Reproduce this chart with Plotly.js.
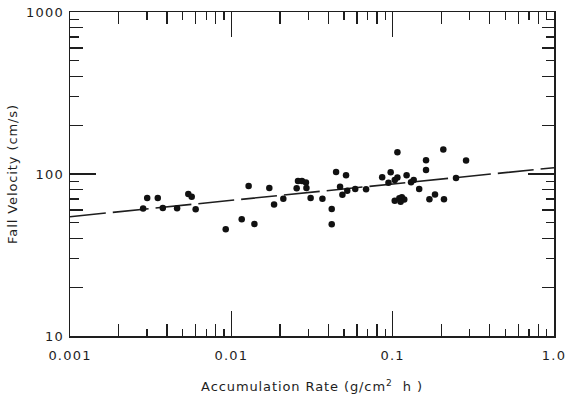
<!DOCTYPE html>
<html>
<head>
<meta charset="utf-8">
<script src="https://cdn.plot.ly/plotly-3.0.1.min.js"></script>
<style>
html,body{margin:0;padding:0;background:#fff;}
#chart{width:567px;height:402px;}
#chart .xtitle, #chart .ytitle{letter-spacing:0.9px;}
#chart .xtick text, #chart .ytick text{letter-spacing:1.2px;}
</style>
</head>
<body>
<div id="chart"></div>
<script>
// Accumulation rate (g/cm^2 h) and fall velocity (cm/s)
const accRate = [0.00284, 0.00301, 0.00350, 0.00376, 0.00461, 0.00541, 0.00568, 0.00601,
  0.00923, 0.0116, 0.0128, 0.0139, 0.0172, 0.0184, 0.0210,
  0.0254, 0.0259, 0.0274, 0.0290, 0.0292, 0.0310, 0.0367,
  0.0419, 0.0419, 0.0446, 0.0514, 0.0472, 0.0488, 0.0523, 0.0586, 0.0684,
  0.0861, 0.0972, 0.0942, 0.103, 0.107, 0.107, 0.122, 0.130, 0.135, 0.146,
  0.161, 0.161, 0.206, 0.285, 0.247, 0.169, 0.183, 0.208,
  0.103, 0.110, 0.114, 0.118, 0.112];
const fallVel = [61.2, 71.1, 71.1, 61.7, 61.5, 75.3, 72.4, 60.6,
  45.6, 52.5, 84.3, 49.1, 81.9, 64.8, 70.4,
  81.6, 90.5, 90.5, 88.6, 81.9, 71.1, 70.4,
  60.8, 49.0, 102.9, 98.3, 83.5, 74.5, 78.9, 80.8, 80.4,
  95.5, 102.4, 88.4, 91.8, 95.1, 136.1, 98.2, 88.9, 91.8, 80.8,
  121.7, 105.9, 141.6, 121.2, 94.5, 69.8, 74.7, 69.8,
  68.4, 70.8, 71.8, 69.6, 67.5];

// Fitted line end points
const fitX = [0.001, 1.0];
const fitY = [54.5, 109.4];

// Tick labels
const xTickVals = [0.001, 0.01, 0.1, 1];
const xTickText = ['0.001', '0.01', '0.1', '1.0'];
const yTickVals = [10, 100, 1000];
const yTickText = ['10', '100', '1000'];

function multiples(decades, mults) {
  const out = [];
  decades.forEach(d => mults.forEach(m => out.push(d * m)));
  return out;
}
const xEven = multiples([0.001, 0.01, 0.1], [2, 4, 6, 8]);
const xOdd = multiples([0.001, 0.01, 0.1], [3, 5, 7, 9]);
const yEven = multiples([10, 100], [2, 4, 6, 8]);
const yOdd = multiples([10, 100], [3, 5, 7, 9]);

const ink = '#1e1e1e';
const font = {family: 'DejaVu Sans, sans-serif', size: 13, color: ink};

const traces = [
  {x: fitX, y: fitY, mode: 'lines', type: 'scatter',
   line: {color: ink, width: 1.6, dash: '36px,7px'}, hoverinfo: 'skip'},
  {x: accRate, y: fallVel, mode: 'markers', type: 'scatter',
   marker: {color: '#111', size: 6.5}},
  {x: [], y: [], type: 'scatter', mode: 'markers', xaxis: 'x2', yaxis: 'y2'},
  {x: [], y: [], type: 'scatter', mode: 'markers', xaxis: 'x3', yaxis: 'y3'}
];

const baseX = {type: 'log', range: [-3, 0], showgrid: false, zeroline: false,
  ticks: 'inside', tickcolor: ink, tickwidth: 1.4, fixedrange: true};
const baseY = {type: 'log', range: [1, 3], showgrid: false, zeroline: false,
  ticks: 'inside', tickcolor: ink, tickwidth: 1.4, fixedrange: true};

const layout = {
  width: 567, height: 402,
  margin: {l: 70, r: 13, t: 12, b: 66},
  paper_bgcolor: '#ffffff', plot_bgcolor: '#ffffff',
  showlegend: false,
  font: font,
  xaxis: Object.assign({}, baseX, {
    tickmode: 'array', tickvals: xTickVals, ticktext: xTickText, ticklen: 25,
    showline: true, linecolor: ink, linewidth: 1.5, mirror: 'ticks',
    ticklabelstandoff: 7, tickfont: font,
    title: {text: 'Accumulation Rate (g/cm<sup>2</sup>  h )', font: font, standoff: 20}
  }),
  yaxis: Object.assign({}, baseY, {
    tickmode: 'array', tickvals: yTickVals, ticktext: yTickText, ticklen: 26,
    showline: true, linecolor: ink, linewidth: 1.5, mirror: 'ticks',
    ticklabelstandoff: 2, tickfont: font,
    title: {text: 'Fall Velocity (cm/s)', font: font, standoff: 10}
  }),
  xaxis2: Object.assign({}, baseX, {overlaying: 'x', anchor: 'y', side: 'bottom',
    tickmode: 'array', tickvals: xEven, ticklen: 12, showticklabels: false,
    showline: false, mirror: 'ticks'}),
  xaxis3: Object.assign({}, baseX, {overlaying: 'x', anchor: 'y', side: 'bottom',
    tickmode: 'array', tickvals: xOdd, ticklen: 7.5, showticklabels: false,
    showline: false, mirror: 'ticks'}),
  yaxis2: Object.assign({}, baseY, {overlaying: 'y', anchor: 'x', side: 'left',
    tickmode: 'array', tickvals: yEven, ticklen: 12.5, showticklabels: false,
    showline: false, mirror: 'ticks'}),
  yaxis3: Object.assign({}, baseY, {overlaying: 'y', anchor: 'x', side: 'left',
    tickmode: 'array', tickvals: yOdd, ticklen: 8.5, showticklabels: false,
    showline: false, mirror: 'ticks'})
};

Plotly.newPlot('chart', traces, layout, {staticPlot: true, displayModeBar: false});
</script>
</body>
</html>
